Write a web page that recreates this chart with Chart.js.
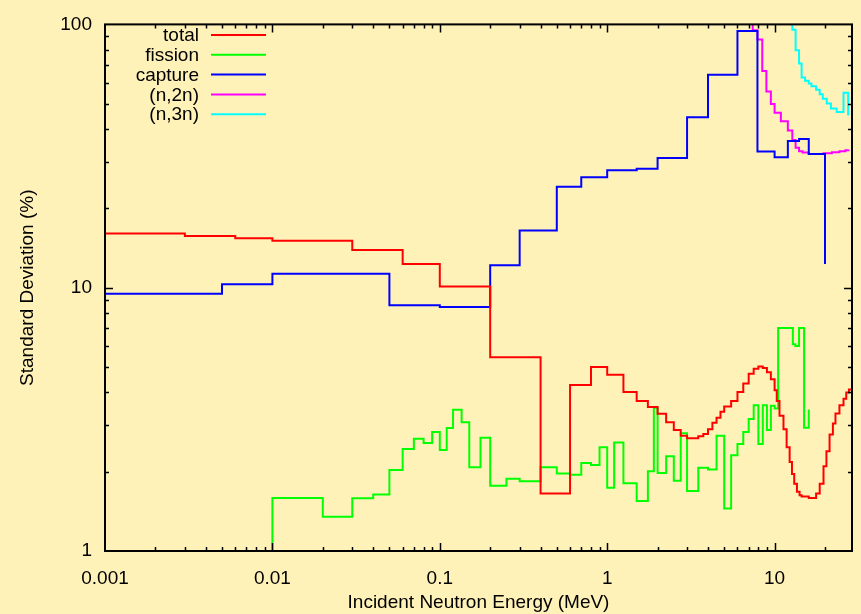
<!DOCTYPE html>
<html>
<head>
<meta charset="utf-8">
<title>Standard Deviation vs Incident Neutron Energy</title>
<script src="https://cdn.jsdelivr.net/npm/chart.js@4.4.1/dist/chart.umd.min.js"></script>
<style>
    html, body { margin: 0; padding: 0; background: #fff2b8; }
    canvas { display: block; }
</style>
</head>
<body>
<canvas id="sdChart" width="861" height="614"></canvas>
<script>
// bin lower edges (MeV) and standard deviations (%)
const totalE = [0.001, 0.003, 0.006, 0.01, 0.03, 0.06, 0.1, 0.2, 0.4, 0.6, 0.8, 1.0, 1.25, 1.5, 1.75, 2.0, 2.25, 2.5, 2.75, 3.0,
    3.5, 3.75, 4.0, 4.25, 4.5, 4.75, 5.0, 5.5, 6.0, 6.5, 7.0, 7.5, 8.0, 8.5, 9.0, 9.5, 10, 10.3, 10.7, 11.3, 11.8, 12.3,
    12.7, 13.1, 13.6, 14.1, 14.5, 16, 17.7, 18.6, 19.6, 20.4, 21.3, 22.3, 23.1, 24.4, 25.8, 26.8, 27.8, 29];
const totalSD = [16.06, 15.7, 15.4, 15.07, 13.9, 12.3, 10.1, 5.44, 1.655, 4.27, 5.0, 4.67, 4.02, 3.71, 3.52, 3.32, 3.08, 2.88, 2.74, 2.68,
    2.73, 2.78, 2.90, 3.07, 3.21, 3.38, 3.54, 3.71, 4.02, 4.33, 4.71, 4.92, 5.02, 4.95, 4.77, 4.49, 4.08, 3.71, 3.26, 2.90, 2.48, 2.18,
    1.96, 1.80, 1.68, 1.63, 1.61, 1.59, 1.655, 1.80, 2.10, 2.39, 2.77, 3.05, 3.33, 3.58, 3.79, 4.0, 4.11, 4.11];

const fissionE = [0.01, 0.01, 0.02, 0.03, 0.04, 0.05, 0.06, 0.07, 0.08, 0.09, 0.1, 0.11, 0.12, 0.135, 0.15, 0.175, 0.2, 0.25, 0.3, 0.4,
    0.5, 0.6, 0.7, 0.8, 0.9, 1.0, 1.1, 1.25, 1.5, 1.75, 1.9, 2.0, 2.25, 2.5, 2.75, 3.0, 3.5, 4.0, 4.5, 5.0, 5.5, 6.0, 6.5, 7.0,
    7.5, 8.0, 8.5, 9.0, 9.5, 10, 10.5, 12.85, 13.3, 14, 15, 16];
const fissionSD = [0.5, 1.59, 1.35, 1.585, 1.64, 2.03, 2.44, 2.67, 2.57, 2.83, 2.42, 2.93, 3.44, 3.08, 2.08, 2.69, 1.77, 1.88, 1.84, 2.08,
    1.97, 1.95, 2.16, 2.12, 2.48, 1.74, 2.58, 1.81, 1.55, 2.01, 3.5, 1.98, 2.29, 1.85, 2.80, 1.69, 2.07, 2.04, 2.74, 1.45, 2.31, 2.55, 2.83, 3.17,
    3.58, 2.55, 3.58, 2.88, 3.56, 3.48, 7.03, 6.10, 6.0, 7.03, 2.94, 3.45];

const captureE = [0.001, 0.005, 0.01, 0.05, 0.1, 0.2, 0.3, 0.5, 0.7, 1.0, 1.5, 2.0, 3.0, 4.0, 6.0, 7.9, 10, 12, 14, 16, 20];
const captureSD = [9.48, 10.3, 11.3, 8.58, 8.45, 12.18, 16.5, 24.2, 26.3, 27.9, 28.3, 31.1, 44.4, 64.4, 94.4, 32.9, 31.3, 36.1, 36.7, 32.2, 12.3];

const n2nE = [7.3, 7.4, 7.9, 8.44, 8.93, 9.5, 10, 10.9, 12, 12.76, 13.35, 14, 14.7, 16, 17.6, 19.6, 22, 24.4, 26.5, 27.7];
const n2nSD = [200, 95, 87.6, 66.6, 55.6, 49.8, 46.2, 42.9, 39.5, 36.4, 34.0, 33.0, 32.6, 32.2, 32.2, 32.4, 32.7, 33.0, 33.3, 33.4];

const n3nE = [12.5, 12.76, 13.35, 14, 14.5, 15.2, 16, 16.6, 17.7, 18.6, 19.4, 20.5, 21.7, 23.5, 25.8, 27.5];
const n3nSD = [200, 95.5, 79.7, 71.0, 62.9, 61.1, 59.7, 58.2, 56.5, 54.3, 52.2, 50.1, 47.9, 46.5, 55.0, 45.1];

const seriesNames = ['total', 'fission', 'capture', '(n,2n)', '(n,3n)'];
const seriesColors = ['#ff0000', '#00ff00', '#0000ff', '#ff00ff', '#00ffff'];

const xTickValues = [0.001, 0.01, 0.1, 1, 10];
const yTickValues = [1, 10, 100];

const FONT = 'Liberation Sans, Arial, Helvetica, sans-serif';
const BG = '#fff2b8';

function toPoints(es, vs) {
    return es.map((e, i) => ({ x: e, y: vs[i] }));
}

const allSeries = [
    toPoints(totalE, totalSD),
    toPoints(fissionE, fissionSD),
    toPoints(captureE, captureSD),
    toPoints(n2nE, n2nSD),
    toPoints(n3nE, n3nSD)
];

// background, framed box with inward ticks, axis titles and a gnuplot style key
const framePlugin = {
    id: 'frame',
    beforeDraw(chart) {
        const ctx = chart.ctx;
        ctx.save();
        ctx.fillStyle = BG;
        ctx.fillRect(0, 0, chart.width, chart.height);
        ctx.restore();
    },
    afterDatasetsDraw(chart) {
        const { ctx, chartArea: a, scales: { x, y } } = chart;
        ctx.save();
        ctx.strokeStyle = '#000';
        ctx.lineWidth = 1.5;
        ctx.beginPath();
        for (let d = -3; d <= 1; d++) {
            for (let k = 1; k <= 9; k++) {
                const v = k * Math.pow(10, d);
                if (v <= x.min || v >= x.max) continue;
                const px = Math.round(x.getPixelForValue(v)) + 0.5;
                const len = k === 1 ? 8 : 4;
                ctx.moveTo(px, a.bottom); ctx.lineTo(px, a.bottom - len);
                ctx.moveTo(px, a.top); ctx.lineTo(px, a.top + len);
            }
        }
        for (let d = 0; d <= 1; d++) {
            for (let k = 1; k <= 9; k++) {
                const v = k * Math.pow(10, d);
                if (v <= y.min || v >= y.max) continue;
                const py = Math.round(y.getPixelForValue(v)) + 0.5;
                const len = k === 1 ? 8 : 4;
                ctx.moveTo(a.left, py); ctx.lineTo(a.left + len, py);
                ctx.moveTo(a.right, py); ctx.lineTo(a.right - len, py);
            }
        }
        ctx.stroke();
        ctx.lineWidth = 2;
        ctx.strokeRect(a.left, a.top, a.right - a.left, a.bottom - a.top);
        ctx.restore();
    },
    afterDraw(chart) {
        const { ctx, chartArea: a } = chart;
        ctx.save();
        ctx.fillStyle = '#000';
        ctx.font = '19px ' + FONT;
        ctx.textAlign = 'center';
        ctx.textBaseline = 'middle';
        ctx.fillText('Incident Neutron Energy (MeV)', (a.left + a.right) / 2, 603);
        ctx.translate(28, (a.top + a.bottom) / 2);
        ctx.rotate(-Math.PI / 2);
        ctx.fillText('Standard Deviation (%)', 0, 0);
        ctx.restore();

        // key
        ctx.save();
        ctx.font = '19px ' + FONT;
        ctx.textAlign = 'right';
        ctx.textBaseline = 'middle';
        chart.data.datasets.forEach((ds, i) => {
            const ry = 35 + i * 19.8;
            ctx.fillStyle = '#000';
            ctx.fillText(ds.label, 199, ry + 1);
            ctx.strokeStyle = ds.borderColor;
            ctx.lineWidth = 2;
            ctx.beginPath();
            ctx.moveTo(211, ry);
            ctx.lineTo(266, ry);
            ctx.stroke();
        });
        ctx.restore();
    }
};

const ctx = document.getElementById('sdChart').getContext('2d');
new Chart(ctx, {
    type: 'line',
    data: {
        datasets: allSeries.map((pts, i) => ({
            label: seriesNames[i],
            data: pts,
            borderColor: seriesColors[i],
            backgroundColor: seriesColors[i],
            borderWidth: 2,
            pointRadius: 0,
            stepped: 'before',
            fill: false
        }))
    },
    options: {
        responsive: false,
        animation: false,
        devicePixelRatio: 1,
        layout: { padding: { top: 18, right: 9, left: 0, bottom: 0 } },
        plugins: { legend: { display: false }, tooltip: { enabled: false } },
        scales: {
            x: {
                type: 'logarithmic',
                min: 0.001,
                max: 29,
                grid: { display: false, drawTicks: false },
                border: { display: false },
                afterBuildTicks: (s) => { s.ticks = xTickValues.map(v => ({ value: v })); },
                afterFit: (s) => { s.height = 63; },
                ticks: {
                    color: '#000',
                    padding: 16,
                    maxRotation: 0,
                    autoSkip: false,
                    font: { family: FONT, size: 19 },
                    callback: (v) => String(v)
                }
            },
            y: {
                type: 'logarithmic',
                min: 1,
                max: 100,
                grid: { display: false, drawTicks: false },
                border: { display: false },
                afterBuildTicks: (s) => { s.ticks = yTickValues.map(v => ({ value: v })); },
                afterFit: (s) => { s.width = 105; },
                ticks: {
                    color: '#000',
                    padding: 13,
                    autoSkip: false,
                    font: { family: FONT, size: 19 },
                    callback: (v) => String(v)
                }
            }
        }
    },
    plugins: [framePlugin]
});
</script>
</body>
</html>
